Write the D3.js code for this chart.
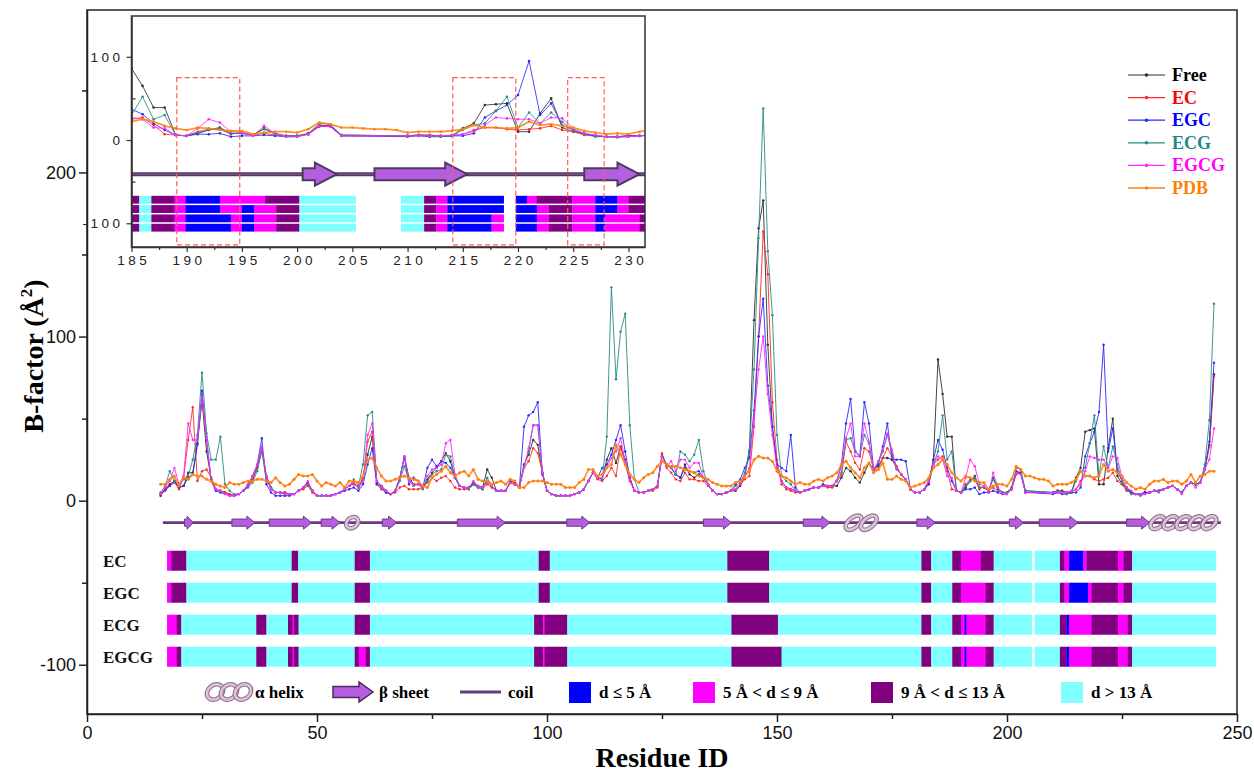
<!DOCTYPE html>
<html><head><meta charset="utf-8">
<script src="https://cdn.jsdelivr.net/npm/d3@7"></script>
<style>body{margin:0;background:#fff;} svg{display:block;}</style>
</head><body>
<svg id="chart" width="1254" height="772"></svg>
<script>
// ---------------- DATA ----------------
const residues = d3.range(16, 246); // residue IDs 16..245
const freeB = [3,7,10,12,8,9,17,17,35,61, 30,13,7,6,5,4,3,4,6,9, 13,20,32,15,8,5,5,5,4,4, 6,8,11,6,3,3,3,3,4,5,
 7,9,11,8,14,28,39,11,9,6, 4,6,14,27,14,10,10,8,13,17, 20,24,29,24,14,9,8,8,10,9, 8,19,14,6,6,6,12,11,8,22,
 28,37,34,17,6,4,3,3,3,3, 4,5,7,12,17,14,13,25,32,23, 33,25,14,6,5,5,6,7,9,28, 22,20,16,14,22,16,14,16,14,10,
 6,4,4,5,6,6,9,15,30,110, 166,183,95,45,20,12,8,7,6,5, 6,7,8,8,9,9,9,9,14,20, 18,14,11,17,23,19,21,26,26,25,
 20,16,13,7,5,5,7,12,25,86, 65,39,39,6,5,8,12,15,8,8, 6,14,8,5,5,8,18,17,6,null, null,null,null,null,5,6,6,5,5,14,
 20,42,43,44,10,10,32,50,15,10, 8,5,4,4,5,5,6,6,7,8, 9,7,5,9,11,10,11,19,34,77];
const ecB = [4,6,9,11,7,14,37,57,12,18, 19,14,7,6,5,4,3,4,6,9, 13,20,31,14,7,5,5,5,4,4, 6,7,9,5,3,3,3,3,4,5,
 7,9,10,8,12,36,42,10,7,5, 4,5,8,9,7,7,7,8,11,14, 12,14,15,12,8,7,7,7,10,8, 7,10,8,6,6,6,11,10,8,20,
 24,32,29,17,6,4,3,3,3,3, 4,5,7,12,17,13,12,15,20,15, 33,22,12,6,5,5,6,6,8,29, 20,17,13,12,17,13,13,12,12,9,
 6,4,4,5,6,7,10,13,15,45, 100,164,138,60,25,10,7,6,5,5, 6,7,8,8,9,8,8,12,15,36, 30,23,19,32,30,19,19,26,32,27,
 21,16,13,7,5,5,7,10,22,25, 27,18,7,6,5,10,13,13,7,9, 6,8,6,5,5,7,16,17,5,null, null,null,null,null,5,6,5,5,5,7,
 12,15,15,13,12,13,14,17,12,10, 6,5,4,4,5,5,6,6,7,8, 9,7,5,9,11,10,11,19,33,76];
const egcB = [4,7,9,12,8,9,14,16,34,67, 37,12,6,5,4,3,3,4,6,10, 15,22,38,10,5,3,3,3,3,4, 6,8,11,6,3,3,3,3,4,5,
 6,7,8,6,10,22,32,10,8,5, 4,6,14,26,10,14,12,8,20,25, 21,24,23,20,14,9,8,8,11,9, 8,12,9,6,6,6,11,10,8,45,
 52,54,60,16,6,4,3,3,3,3, 4,5,7,12,17,14,20,22,28,37, 46,30,14,6,5,5,6,7,9,27, 22,20,16,14,20,18,17,18,14,10,
 6,4,4,5,6,10,13,20,26,55, 100,123,70,45,22,20,18,40,8,5, 6,7,8,8,10,9,9,12,22,47, 62,30,27,60,47,19,22,33,47,25,
 25,25,24,7,5,5,7,10,25,37, 31,20,12,6,5,7,7,8,4,5, 5,6,5,4,4,7,17,17,5,null, null,null,null,null,4,5,4,4,5,5,
 8,27,35,42,54,95,30,44,18,12, 7,5,4,4,5,5,6,6,7,8, 9,7,5,9,11,10,11,19,36,84];
const ecgB = [5,9,18,12,10,13,15,25,40,78, 41,25,25,39,10,6,4,4,6,8, 11,18,30,12,8,5,5,4,4,4, 6,8,10,6,3,3,3,3,4,5,
 7,9,13,9,22,52,54,12,9,6, 4,6,12,21,12,9,10,7,12,16, 18,19,28,27,14,9,8,7,10,8, 7,14,9,6,6,6,11,10,8,21,
 30,46,46,17,6,4,3,3,3,3, 4,5,7,12,17,14,13,39,130,74, 103,114,46,13,5,5,6,7,9,27, 22,20,16,30,28,24,28,37,18,10,
 6,4,4,5,6,9,11,17,31,80, 160,239,152,113,40,15,12,10,6,5, 6,7,8,8,9,9,9,12,17,37, 38,30,27,40,35,19,23,30,40,29,
 19,16,13,7,5,5,7,12,22,30, 52,25,30,6,5,9,12,14,8,8, 6,13,7,5,5,7,20,19,6,null, null,null,null,null,5,6,5,4,5,12,
 18,20,35,52,15,33,20,33,22,12, 7,4,4,3,4,5,6,6,7,8, 9,7,5,9,11,10,11,22,49,120];
const egcgB = [4,8,12,20,10,15,47,37,37,63, 38,12,7,6,4,3,3,4,6,10, 15,22,33,15,7,5,5,4,4,4, 6,8,12,6,3,3,3,3,4,5,
 7,9,11,8,12,40,47,12,8,6, 4,6,14,27,12,10,10,8,15,19, 20,22,35,37,16,9,8,8,12,9, 8,11,9,6,6,6,11,10,8,20,
 32,46,46,17,6,4,3,3,3,3, 4,5,7,12,17,14,14,20,26,30, 38,24,13,6,5,5,6,7,9,27, 21,24,18,25,25,20,23,23,14,10,
 6,4,4,5,6,7,10,15,20,50, 80,100,65,40,20,12,8,7,6,5, 6,7,8,8,9,9,9,12,21,38, 47,27,27,47,36,19,24,31,41,31,
 20,16,13,7,5,5,7,12,22,27, 25,15,14,6,5,14,25,21,10,9, 5,17,8,4,4,7,17,16,5,null, null,null,null,null,5,5,5,5,6,7,
 10,18,27,26,25,25,20,27,26,14, 8,6,4,4,4,5,6,5,7,8, 9,7,4,9,11,8,11,19,25,44];
const pdbB = [10,10,13,15,9,14,13,16,15,15, 13,12,10,9,8,11,10,10,11,12, 12,13,13,12,11,14,11,9,10,13, 16,15,15,16,12,9,11,10,9,11,
 8,12,12,11,15,25,26,20,15,12, 12,13,14,15,14,13,12,9,8,14, 16,18,21,17,15,17,18,15,19,13, 12,12,10,11,12,10,13,12,8,8,
 11,12,12,12,11,10,10,10,8,8, 8,11,13,19,19,15,16,20,22,34, 28,22,16,13,11,14,16,17,21,24, 22,21,21,20,19,18,17,15,14,13,
 11,10,9,9,9,11,12,15,18,25, 27,26,26,24,18,15,14,12,10,11, 10,10,12,13,12,14,15,17,22,24, 20,17,14,20,23,17,19,23,13,13,
 15,13,12,8,9,10,11,14,20,22, 25,22,17,14,12,15,14,12,11,11, 7,9,10,10,9,13,21,19,15,15, 14,13,13,12,9,10,10,10,11,13,
 18,15,15,14,15,22,18,19,17,15, 11,9,7,8,7,10,12,12,13,11, 12,12,10,12,16,11,15,16,18,18];

const seriesNames = ['Free','EC','EGC','ECG','EGCG','PDB'];

// secondary structure (residue ranges)
const coilRange = [16.5, 246.5];
const betaSheets = [[21.2,23.1],[31.5,36.5],[39.6,48.8],[50.9,55],[64.2,67.3],[80.5,90.9],[104.3,109.3],[134,140.1],[155.7,161.5],[180.4,184.4],[200.5,203.6],[207,215.4],[226,231]];
const helices = [[56.5,58.8],[165,171.6],[231.3,245.4]];

// distance to ligand bars: [start, end, class]  b: d<=5, m: 5<d<=9, p: 9<d<=13, c: d>13
const distEC = [[17.4,18.3,'m'],[18.3,21.6,'p'],[21.6,44.5,'c'],[44.5,45.9,'p'],[45.9,58.2,'c'],[58.2,61.5,'p'],[61.5,98.2,'c'],[98.2,100.6,'p'],[100.6,139.2,'c'],[139.2,148.3,'p'],[148.3,181.4,'c'],[181.4,183.5,'p'],[183.5,188.1,'c'],[188.1,190,'p'],[190,194.3,'m'],[194.3,197.1,'p'],[197.1,205.4,'c'],[206,211.5,'c'],[211.5,212.5,'p'],[212.5,213.5,'m'],[213.5,216.6,'b'],[216.6,217.3,'m'],[217.3,224.1,'p'],[224.1,225.3,'m'],[225.3,227.2,'p'],[227.2,245.4,'c']];
const distEGC = [[17.4,18.3,'m'],[18.3,21.6,'p'],[21.6,44.5,'c'],[44.5,45.9,'p'],[45.9,58.2,'c'],[58.2,61.5,'p'],[61.5,98.2,'c'],[98.2,100.6,'p'],[100.6,139.2,'c'],[139.2,148.3,'p'],[148.3,181.4,'c'],[181.4,183.5,'p'],[183.5,188.1,'c'],[188.1,190,'p'],[190,195.3,'m'],[195.3,197.1,'p'],[197.1,205.4,'c'],[206,211.5,'c'],[211.5,212.5,'p'],[212.5,213.5,'m'],[213.5,217.6,'b'],[217.6,218.4,'m'],[218.4,224.1,'p'],[224.1,225.3,'m'],[225.3,227.2,'p'],[227.2,245.4,'c']];
const distECG = [[17.4,19.5,'m'],[19.5,20.5,'p'],[20.5,36.8,'c'],[36.8,39,'p'],[39,43.7,'c'],[43.7,44.7,'p'],[44.7,45,'m'],[45,46,'p'],[46,58.2,'c'],[58.2,61.5,'p'],[61.5,97.2,'c'],[97.2,99.2,'p'],[99.2,99.5,'m'],[99.5,104.4,'p'],[104.4,140.1,'c'],[140.1,150.2,'p'],[150.2,181.4,'c'],[181.4,183.5,'p'],[183.5,188.1,'c'],[188.1,190,'p'],[190,190.8,'m'],[190.8,191.2,'b'],[191.2,195.3,'m'],[195.3,197.1,'p'],[197.1,205.4,'c'],[206,211.5,'c'],[211.5,212.9,'p'],[212.9,213.5,'b'],[213.5,218.4,'m'],[218.4,224.1,'p'],[224.1,226.2,'m'],[226.2,227.2,'p'],[227.2,245.4,'c']];
const distEGCG = [[17.4,19.5,'m'],[19.5,20.5,'p'],[20.5,36.8,'c'],[36.8,39,'p'],[39,43.7,'c'],[43.7,44.7,'p'],[44.7,45,'m'],[45,46,'p'],[46,58.2,'c'],[58.2,59.1,'p'],[59.1,60.6,'m'],[60.6,61.5,'p'],[61.5,97.2,'c'],[97.2,99.2,'p'],[99.2,99.5,'m'],[99.5,104.4,'p'],[104.4,140.1,'c'],[140.1,151,'p'],[151,181.4,'c'],[181.4,183.5,'p'],[183.5,188.1,'c'],[188.1,190,'p'],[190,190.8,'m'],[190.8,191.2,'b'],[191.2,195.3,'m'],[195.3,197.1,'p'],[197.1,205.4,'c'],[206,211.5,'c'],[211.5,212.9,'p'],[212.9,213.5,'b'],[213.5,218.4,'m'],[218.4,224.1,'p'],[224.1,226.2,'m'],[226.2,227.2,'p'],[227.2,245.4,'c']];
const distRows = ['EC','EGC','ECG','EGCG'];

// inset distance rows (higher resolution view of 185-232)
const insetRow1 = [[185,185.7,'p'],[185.7,186.8,'c'],[186.8,188.9,'p'],[188.9,189.9,'m'],[189.9,193,'b'],[193,197.1,'m'],[197.1,200.2,'p'],[200.2,205.3,'c'],[209.4,211.5,'c'],[211.5,212.6,'p'],[212.6,213.6,'m'],[213.6,218.7,'b'],[219.8,220.8,'b'],[220.8,221.7,'m'],[221.7,224.9,'p'],[224.9,227,'m'],[227,229,'b'],[229,230,'m'],[230,231.5,'p']];
const insetRow2 = [[185,185.7,'p'],[185.7,186.8,'c'],[186.8,188.9,'p'],[188.9,189.9,'m'],[189.9,193,'b'],[193,195,'m'],[195,196.1,'b'],[196.1,198.1,'m'],[198.1,200.2,'p'],[200.2,205.3,'c'],[209.4,211.5,'c'],[211.5,212.6,'p'],[212.6,213.6,'m'],[213.6,218.7,'b'],[219.8,221.7,'b'],[221.7,222.8,'m'],[222.8,224.9,'p'],[224.9,227,'m'],[227,229,'b'],[229,230,'m'],[230,231.5,'p']];
const insetRow3 = [[185,185.7,'p'],[185.7,186.8,'c'],[186.8,188.9,'p'],[188.9,189.9,'m'],[189.9,194,'b'],[194,195,'m'],[195,196.1,'b'],[196.1,198.1,'m'],[198.1,200.2,'p'],[200.2,205.3,'c'],[209.4,211.5,'c'],[211.5,212.6,'p'],[212.6,213.6,'m'],[213.6,217.6,'b'],[217.6,218.7,'m'],[219.8,221.7,'b'],[221.7,222.8,'m'],[222.8,224.9,'p'],[224.9,227,'m'],[227,227.9,'b'],[227.9,231,'m'],[231,231.5,'p']];
const insetRow4 = [[185,185.7,'p'],[185.7,186.8,'c'],[186.8,188.9,'p'],[188.9,189.9,'m'],[189.9,194,'b'],[194,195,'m'],[195,196.1,'b'],[196.1,198.1,'m'],[198.1,200.2,'p'],[200.2,205.3,'c'],[209.4,211.5,'c'],[211.5,212.6,'p'],[212.6,213.6,'m'],[213.6,217.6,'b'],[217.6,218.7,'m'],[219.8,221.7,'b'],[221.7,222.8,'m'],[222.8,224.9,'p'],[224.9,227,'m'],[227,227.9,'b'],[227.9,231,'m'],[231,231.5,'p']];
const insetHighlights = [[189.1,194.8],[214.1,219.8],[224.5,227.8]];

// ticks
const tickX = [0,50,100,150,200,250];
const minorTickX = [25,75,125,175,225];
const tickY = [-100,0,100,200];
const minorTickY = [-50,50,150,250];
const insetTickX = [185,190,195,200,205,210,215,220,225,230];
const insetMinorTickX = [187.5,192.5,197.5,202.5,207.5,212.5,217.5,222.5,227.5];
const insetTickY = [-100,0,100];
const insetMinorTickY = [-50,50];
const distLegend = [['b','d ≤ 5 Å'],['m','5 Å < d ≤ 9 Å'],['p','9 Å < d ≤ 13 Å'],['c','d > 13 Å']];

// ---------------- STYLE ----------------
const W = 1254, H = 772;
const SERIF = '"Liberation Serif","Times New Roman",serif';
const SANS = '"Liberation Sans",Arial,sans-serif';
const lineColor = {Free:'#303030', EC:'#ff2a2a', EGC:'#2a2aff', ECG:'#2a8c86', EGCG:'#ff2aff', PDB:'#ff8010'};
const textColor = {Free:'#000', EC:'#ff0000', EGC:'#0000ff', ECG:'#1f8a84', EGCG:'#ff00ff', PDB:'#ff8000'};
const distColor = {b:'#0000ff', m:'#ff00ff', p:'#800080', c:'#80ffff'};
const seriesValues = {Free:freeB, EC:ecB, EGC:egcB, ECG:ecgB, EGCG:egcgB, PDB:pdbB};
const distData = {EC:distEC, EGC:distEGC, ECG:distECG, EGCG:distEGCG};

const svg = d3.select('#chart');
svg.append('rect').attr('width', W).attr('height', H).attr('fill', '#fff');

const x = d3.scaleLinear().domain([0,250]).range([87,1237]);
const y = d3.scaleLinear().domain([-130,299]).range([714,10]);

function styleAxis(g, fs){
  g.selectAll('.domain').attr('stroke','#222').attr('stroke-width',1.5);
  g.selectAll('.tick line').attr('stroke','#222').attr('stroke-width',1.5);
  g.selectAll('text').attr('font-family',SANS).attr('font-size',fs).attr('fill','#111');
}

// ---- main axes ----
const gx = svg.append('g').attr('transform','translate(0,714)');
gx.call(d3.axisBottom(x).tickValues(tickX).tickFormat(d=>String(d)).tickSize(8).tickSizeOuter(0).tickPadding(4));
const gx2 = svg.append('g').attr('transform','translate(0,714)');
gx2.call(d3.axisBottom(x).tickValues(minorTickX).tickFormat('').tickSize(5).tickSizeOuter(0));
gx2.select('.domain').remove();
styleAxis(gx, 18); styleAxis(gx2, 18);

const gy = svg.append('g').attr('transform','translate(87,0)');
gy.call(d3.axisLeft(y).tickValues(tickY).tickFormat(d=>String(d)).tickSize(8).tickSizeOuter(0).tickPadding(3));
const gy2 = svg.append('g').attr('transform','translate(87,0)');
gy2.call(d3.axisLeft(y).tickValues(minorTickY).tickFormat('').tickSize(5).tickSizeOuter(0));
gy2.select('.domain').remove();
styleAxis(gy, 18); styleAxis(gy2, 18);

// frame
svg.append('rect').attr('x',x(0)).attr('y',y(299)).attr('width',x(250)-x(0)).attr('height',y(-130)-y(299))
  .attr('fill','none').attr('stroke','#222').attr('stroke-width',1.5);

// axis titles
svg.append('text').attr('x',(x(0)+x(250))/2).attr('y',767).attr('text-anchor','middle')
  .attr('font-family',SERIF).attr('font-weight','bold').attr('font-size',28).text('Residue ID');
const yt = svg.append('text').attr('transform','translate(43,356) rotate(-90)').attr('text-anchor','middle')
  .attr('font-family',SERIF).attr('font-weight','bold').attr('font-size',28);
yt.append('tspan').text('B-factor (Å');
yt.append('tspan').attr('font-size',17).attr('dy',-11).text('2');
yt.append('tspan').attr('dy',11).text(')');

// ---- distance bars ----
const band = d3.scaleBand().domain(distRows).range([y(-30.5), y(-101.2)]).paddingInner(0.375);
const gBars = svg.append('g');
distRows.forEach(row=>{
  gBars.append('g').selectAll('rect').data(distData[row]).join('rect')
    .attr('x', d=>x(d[0])).attr('width', d=>x(d[1])-x(d[0])+0.3)
    .attr('y', band(row)).attr('height', band.bandwidth())
    .attr('fill', d=>distColor[d[2]]);
  gBars.append('text').attr('x',103).attr('y',band(row)+band.bandwidth()/2+6)
    .attr('font-family',SERIF).attr('font-weight','bold').attr('font-size',17).attr('fill','#111').text(row);
});

// ---- secondary structure ----
function arrowPath(x0,x1,yc,bh,hh,hl){
  hl = Math.min(hl,(x1-x0)*0.7);
  return `M${x0},${yc-bh}L${x1-hl},${yc-bh}L${x1-hl},${yc-hh}L${x1},${yc}L${x1-hl},${yc+hh}L${x1-hl},${yc+bh}L${x0},${yc+bh}Z`;
}
function drawHelix(g,x0,x1,yc,h){
  const n = Math.max(1, Math.round((x1-x0)/13));
  const w = (x1-x0)/n;
  for(let i=0;i<n;i++){
    const cx = x0 + w*(i+0.5);
    const rx = w*0.62, ry = h/2-1.5;
    g.append('ellipse').attr('cx',cx).attr('cy',yc).attr('rx',rx).attr('ry',ry)
      .attr('transform',`rotate(-40,${cx},${yc})`)
      .attr('fill','none').attr('stroke','#8a6a8a').attr('stroke-width',4.6);
    g.append('ellipse').attr('cx',cx).attr('cy',yc).attr('rx',rx).attr('ry',ry)
      .attr('transform',`rotate(-40,${cx},${yc})`)
      .attr('fill','none').attr('stroke','#dcc3dc').attr('stroke-width',2.6);
  }
}
const ssY = y(-13.4);
const gSS = svg.append('g');
gSS.append('line').attr('x1',x(coilRange[0])).attr('x2',x(coilRange[1])).attr('y1',ssY).attr('y2',ssY)
  .attr('stroke','#6b3a7d').attr('stroke-width',2.6);
gSS.selectAll('path.beta').data(betaSheets).join('path').attr('class','beta')
  .attr('d',d=>arrowPath(x(d[0]),x(d[1]),ssY,3.6,6.5,8))
  .attr('fill','#b65ee0').attr('stroke','#6b3a7d').attr('stroke-width',1);
helices.forEach(h=>drawHelix(gSS,x(h[0]),x(h[1]),ssY,13));

// ---- B-factor lines ----
const gLines = svg.append('g');
const line = d3.line().x(d=>x(d[0])).y(d=>y(d[1]));
seriesNames.forEach(name=>{
  const pts = residues.map((r,i)=>[r, seriesValues[name][i]]).filter(d=>d[1]!=null);
  const sw = name==='PDB'?1.6:1;
  gLines.append('path').attr('d',line(pts)).attr('fill','none').attr('stroke',lineColor[name])
    .attr('stroke-width',sw).attr('stroke-linejoin','round').attr('opacity',0.9);
  gLines.append('g').selectAll('circle').data(pts).join('circle')
    .attr('cx',d=>x(d[0])).attr('cy',d=>y(d[1])).attr('r',name==='PDB'?1.5:1.2).attr('fill',lineColor[name]);
});

// ---- top-right legend ----
const gLeg = svg.append('g');
seriesNames.forEach((name,i)=>{
  const yy = 75 + i*22.6;
  gLeg.append('line').attr('x1',1128).attr('x2',1165).attr('y1',yy).attr('y2',yy)
    .attr('stroke',lineColor[name]).attr('stroke-width',name==='PDB'?1.6:1.2);
  gLeg.append('circle').attr('cx',1146.5).attr('cy',yy).attr('r',1.8).attr('fill',lineColor[name]);
  gLeg.append('text').attr('x',1172).attr('y',yy+6).attr('font-family',SERIF).attr('font-weight','bold')
    .attr('font-size',18).attr('fill',textColor[name]).text(name);
});

// ---- bottom legend ----
const gBL = svg.append('g');
const ly = 692;
drawHelix(gBL,208,250,ly,17);
gBL.append('text').attr('x',255).attr('y',ly+6).attr('font-family',SERIF).attr('font-weight','bold').attr('font-size',17).text('α helix');
gBL.append('path').attr('d',arrowPath(333,373,ly,5.5,10,14)).attr('fill','#b65ee0').attr('stroke','#4e2a5e').attr('stroke-width',1.5);
gBL.append('text').attr('x',379).attr('y',ly+6).attr('font-family',SERIF).attr('font-weight','bold').attr('font-size',17).text('β sheet');
gBL.append('line').attr('x1',460).attr('x2',501).attr('y1',ly).attr('y2',ly).attr('stroke','#6b3a7d').attr('stroke-width',3);
gBL.append('text').attr('x',508).attr('y',ly+6).attr('font-family',SERIF).attr('font-weight','bold').attr('font-size',17).text('coil');
const sqX = [569, 693, 871, 1061];
distLegend.forEach((d,i)=>{
  gBL.append('rect').attr('x',sqX[i]).attr('y',ly-10).attr('width',22).attr('height',21).attr('fill',distColor[d[0]]);
  gBL.append('text').attr('x',sqX[i]+30).attr('y',ly+6).attr('font-family',SERIF).attr('font-weight','bold').attr('font-size',17).text(d[1]);
});

// ---------------- INSET ----------------
const xi = d3.scaleLinear().domain([185,231.5]).range([131.5,645]);
const yi = d3.scaleLinear().domain([-128.5,149]).range([247,16]);
const gIn = svg.append('g');
gIn.append('rect').attr('x',xi(185)).attr('y',yi(149)).attr('width',xi(231.5)-xi(185)).attr('height',yi(-128.5)-yi(149)).attr('fill','#fff');
const defs = svg.append('defs');
defs.append('clipPath').attr('id','insetClip').append('rect')
  .attr('x',xi(185)).attr('y',yi(149)).attr('width',xi(231.5)-xi(185)).attr('height',yi(-128.5)-yi(149));
const gInC = gIn.append('g').attr('clip-path','url(#insetClip)');

// inset bars
const insetRows = [insetRow1, insetRow2, insetRow3, insetRow4];
const bandI = d3.scaleBand().domain([0,1,2,3]).range([yi(-67), yi(-110)]).paddingInner(0.16);
insetRows.forEach((rowData,ri)=>{
  gInC.append('g').selectAll('rect').data(rowData).join('rect')
    .attr('x',d=>xi(d[0])).attr('width',d=>xi(d[1])-xi(d[0])+0.3)
    .attr('y',bandI(ri)).attr('height',bandI.bandwidth()).attr('fill',d=>distColor[d[2]]);
});
// inset secondary structure
const ssYi = yi(-41);
gInC.append('line').attr('x1',xi(185)).attr('x2',xi(231.5)).attr('y1',ssYi).attr('y2',ssYi)
  .attr('stroke','#4e3a5e').attr('stroke-width',4);
gInC.append('line').attr('x1',xi(185)).attr('x2',xi(231.5)).attr('y1',ssYi).attr('y2',ssYi)
  .attr('stroke','#7a4a8a').attr('stroke-width',1.5);
gInC.selectAll('path.beta').data(betaSheets.filter(d=>d[1]>185)).join('path').attr('class','beta')
  .attr('d',d=>arrowPath(xi(d[0]),xi(d[1]),ssYi,6,11.5,22))
  .attr('fill','#b65ee0').attr('stroke','#4e3a5e').attr('stroke-width',2);
// inset lines
const lineI = d3.line().x(d=>xi(d[0])).y(d=>yi(d[1]));
seriesNames.forEach(name=>{
  const pts = residues.map((r,i)=>[r, seriesValues[name][i]]).filter(d=>d[1]!=null && d[0]>=184 && d[0]<=233);
  gInC.append('path').attr('d',lineI(pts)).attr('fill','none').attr('stroke',lineColor[name])
    .attr('stroke-width',name==='PDB'?1.8:1).attr('opacity',0.85);
  gInC.append('g').selectAll('circle').data(pts).join('circle')
    .attr('cx',d=>xi(d[0])).attr('cy',d=>yi(d[1])).attr('r',1.3).attr('fill',lineColor[name]);
});
// highlight boxes
gIn.selectAll('rect.hl').data(insetHighlights).join('rect').attr('class','hl')
  .attr('x',d=>xi(d[0])).attr('width',d=>xi(d[1])-xi(d[0]))
  .attr('y',yi(75)).attr('height',yi(-126)-yi(75))
  .attr('fill','none').attr('stroke','#ff5a5a').attr('stroke-width',1.2).attr('stroke-dasharray','5,3');
// inset axes
const gix = gIn.append('g').attr('transform',`translate(0,${yi(-128.5)})`);
gix.call(d3.axisBottom(xi).tickValues(insetTickX).tickFormat(d=>String(d)).tickSize(5).tickSizeOuter(0).tickPadding(3));
const gix2 = gIn.append('g').attr('transform',`translate(0,${yi(-128.5)})`);
gix2.call(d3.axisBottom(xi).tickValues(insetMinorTickX).tickFormat('').tickSize(3).tickSizeOuter(0));
gix2.select('.domain').remove();
const giy = gIn.append('g').attr('transform',`translate(${xi(185)},0)`);
giy.call(d3.axisLeft(yi).tickValues(insetTickY).tickFormat(d=>String(d)).tickSize(5).tickSizeOuter(0).tickPadding(3));
const giy2 = gIn.append('g').attr('transform',`translate(${xi(185)},0)`);
giy2.call(d3.axisLeft(yi).tickValues(insetMinorTickY).tickFormat('').tickSize(-4).tickSizeOuter(0));
giy2.select('.domain').remove();
[gix,gix2,giy,giy2].forEach(g=>{
  g.selectAll('.domain').attr('stroke','#333').attr('stroke-width',1.5);
  g.selectAll('.tick line').attr('stroke','#333').attr('stroke-width',1.2);
  g.selectAll('text').attr('font-family',SANS).attr('font-size',13.5).attr('fill','#222').attr('letter-spacing','3.5px');
});
gix.selectAll('text').attr('dx','1.75px');
gIn.append('rect').attr('x',xi(185)).attr('y',yi(149)).attr('width',xi(231.5)-xi(185)).attr('height',yi(-128.5)-yi(149))
  .attr('fill','none').attr('stroke','#333').attr('stroke-width',1.5);
</script>
</body></html>
